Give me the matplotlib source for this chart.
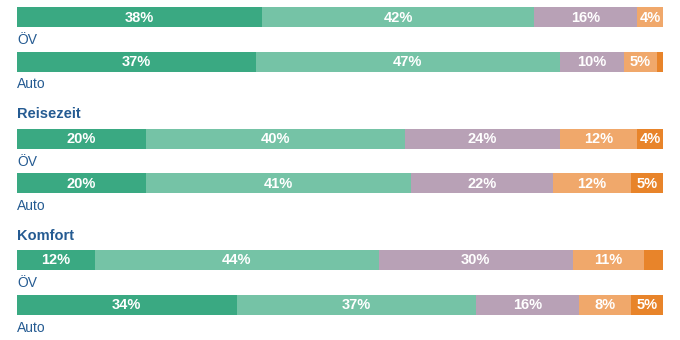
import matplotlib.pyplot as plt

# data
groups = ['', 'Reisezeit', 'Komfort']
modes = ['ÖV', 'Auto']
values = [
    [[38, 42, 16, 4, 0], [37, 47, 10, 5, 1]],
    [[20, 40, 24, 12, 4], [20, 41, 22, 12, 5]],
    [[12, 44, 30, 11, 3], [34, 37, 16, 8, 5]],
]
colors = ['#3aa982', '#75c3a6', '#b8a1b6', '#f0a86b', '#e8842a']
blue = '#255b92'

plt.rcParams['font.family'] = ['Liberation Sans', 'DejaVu Sans']

fig = plt.figure(figsize=(6.8, 3.4), dpi=100)
ax = fig.add_axes([17 / 680, 0, 646 / 680, 1])
ax.set_xlim(0, 100)
ax.set_ylim(340, 0)
ax.axis('off')

for g, title in enumerate(groups):
    top = 17 + g * 121.5
    if title:
        ax.text(0, top - 24, title, color=blue, fontsize=10.5, fontweight='bold',
                va='center', ha='left')
    for m, mode in enumerate(modes):
        y = top + m * 44.5
        left = 0
        for i, v in enumerate(values[g][m]):
            ax.barh(y, v, left=left, height=20, color=colors[i], linewidth=0)
            if v >= 4:
                ax.text(left + v / 2, y + 0.5, f'{v}%', color='white', fontsize=10.5,
                        fontweight='bold', ha='center', va='center')
            left += v
        ax.text(0, y + 23, mode, color=blue, fontsize=10, va='center', ha='left')

fig.savefig('out.png', dpi=100)
